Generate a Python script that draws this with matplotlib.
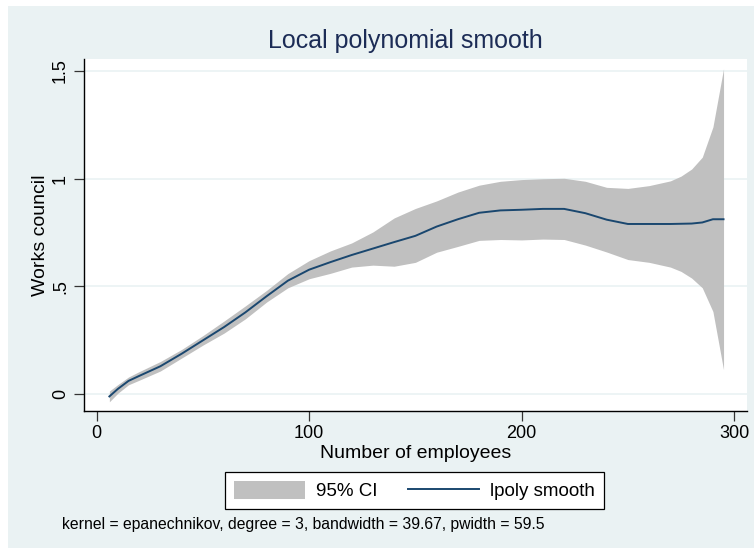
import matplotlib
matplotlib.use('Agg')
import matplotlib.pyplot as plt
from matplotlib.patches import Rectangle, Patch
from matplotlib.lines import Line2D

plt.rcParams['font.family'] = ['Liberation Sans', 'DejaVu Sans']

# Values (lpoly smooth with 95% CI)
employees = [6, 10, 15, 20, 30, 40, 50, 60, 70, 80, 90, 100, 110, 120, 130, 140,
             150, 160, 170, 180, 190, 200, 210, 220, 230, 240, 250, 260, 270,
             275, 280, 285, 290, 295]
smooth = [-0.010, 0.025, 0.062, 0.085, 0.130, 0.188, 0.250, 0.312, 0.380, 0.455,
          0.527, 0.578, 0.613, 0.646, 0.676, 0.706, 0.735, 0.778, 0.812, 0.842,
          0.853, 0.856, 0.860, 0.860, 0.840, 0.810, 0.790, 0.790, 0.790,
          0.791, 0.792, 0.797, 0.812, 0.812]
ci_upper = [0.015, 0.045, 0.080, 0.105, 0.152, 0.208, 0.272, 0.340, 0.410, 0.482,
            0.560, 0.620, 0.665, 0.702, 0.753, 0.818, 0.862, 0.897, 0.938, 0.970,
            0.988, 0.996, 1.000, 1.002, 0.988, 0.960, 0.955, 0.968, 0.990,
            1.012, 1.045, 1.100, 1.240, 1.510]
ci_lower = [-0.035, 0.005, 0.044, 0.065, 0.108, 0.168, 0.228, 0.284, 0.350, 0.428,
            0.494, 0.536, 0.561, 0.590, 0.599, 0.594, 0.612, 0.659, 0.686, 0.714,
            0.718, 0.716, 0.720, 0.718, 0.692, 0.660, 0.625, 0.612, 0.590,
            0.570, 0.539, 0.494, 0.384, 0.114]

yticks = [0, 0.5, 1, 1.5]
ytick_labels = ['0', '.5', '1', '1.5']
xticks = [0, 100, 200, 300]

W, H = 754, 554
BG = '#EAF2F3'
NAVY = '#1A476F'

fig = plt.figure(figsize=(W / 100, H / 100), dpi=100, facecolor='white')
# light graph region behind everything
fig.patches.append(Rectangle((8 / W, 1 - 548 / H), (W - 8) / W, (548 - 6) / H,
                             transform=fig.transFigure, facecolor=BG,
                             edgecolor='none', zorder=-10))

ax = fig.add_axes([84.3 / W, 1 - 411.3 / H, (746.7 - 84.3) / W, (411.3 - 59.3) / H])
ax.set_facecolor('white')
ax.fill_between(employees, ci_lower, ci_upper, color='#C0C0C0', linewidth=0, zorder=2)
ax.plot(employees, smooth, color=NAVY, linewidth=1.4, zorder=3)

ax.set_xlim(-5.8, 305.9)
ax.set_ylim(-0.079, 1.554)
ax.set_xticks(xticks)
ax.set_yticks(yticks)
ax.set_yticklabels(ytick_labels, rotation=90, va='center')
ax.tick_params(axis='both', direction='out', length=7, width=0.9, labelsize=13,
               color='#333333')
ax.tick_params(axis='y', pad=4)
ax.tick_params(axis='x', pad=3)
ax.grid(axis='y', color=BG, linewidth=1.2, zorder=1)
ax.set_axisbelow(True)
for side in ['top', 'right']:
    ax.spines[side].set_visible(False)
for side in ['left', 'bottom']:
    ax.spines[side].set_linewidth(1.0)
    ax.spines[side].set_color('black')

ax.set_xlabel('Number of employees', fontsize=14, labelpad=2)
ax.set_ylabel('Works council', fontsize=14, labelpad=2)

fig.text(405 / W, 1 - 48 / H, 'Local polynomial smooth', fontsize=18,
         color='#1C2C56', ha='center', va='baseline')

handles = [Patch(facecolor='#C0C0C0', edgecolor='none', label='95% CI'),
           Line2D([], [], color=NAVY, linewidth=1.4, label='lpoly smooth')]
leg = fig.legend(handles=handles, loc='center', ncol=2,
                 bbox_to_anchor=(414.5 / W, 1 - 490.5 / H), fontsize=13.5,
                 frameon=True, fancybox=False, framealpha=1, handlelength=3.8,
                 handleheight=1.1, handletextpad=0.6, columnspacing=1.6,
                 borderpad=0.45)
leg.get_frame().set_edgecolor('black')
leg.get_frame().set_linewidth(0.9)
leg.get_frame().set_facecolor('white')

fig.text(62 / W, 1 - 529 / H,
         'kernel = epanechnikov, degree = 3, bandwidth = 39.67, pwidth = 59.5',
         fontsize=11.3, ha='left', va='baseline', color='black')

fig.savefig('out.png', dpi=100, facecolor=fig.get_facecolor())
